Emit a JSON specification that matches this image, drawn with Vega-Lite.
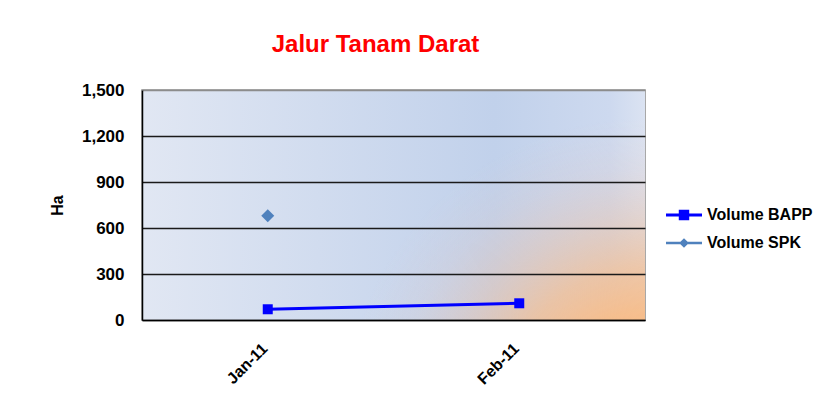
{
  "$schema": "https://vega.github.io/schema/vega-lite/v6.json",
  "width": 503,
  "height": 230,
  "autosize": "none",
  "padding": {"left": 142, "top": 90, "right": 179, "bottom": 83},
  "background": "white",
  "title": {
    "text": "Jalur Tanam Darat",
    "color": "#ff0000",
    "fontSize": 24,
    "fontWeight": "bold",
    "font": "Liberation Sans",
    "anchor": "middle",
    "dx": -18,
    "offset": 24
  },
  "config": {
    "view": {"stroke": "#8c8c8c", "strokeWidth": 1.5},
    "axis": {
      "labelFont": "Liberation Sans",
      "titleFont": "Liberation Sans",
      "labelColor": "#000",
      "titleColor": "#000"
    },
    "legend": {"labelFont": "Liberation Sans"}
  },
  "data": {
    "values": [
      {"month": "Jan-11", "series": "Volume BAPP", "value": 70},
      {"month": "Feb-11", "series": "Volume BAPP", "value": 109},
      {"month": "Jan-11", "series": "Volume SPK", "value": 680}
    ]
  },
  "layer": [
    {
      "data": {"values": [{"bg": 1}]},
      "mark": {
        "type": "rect",
        "color": {
          "gradient": "linear",
          "x1": 0, "y1": 0.5, "x2": 1, "y2": 0.5,
          "stops": [
            {"offset": 0, "color": "#e1e7f3"},
            {"offset": 0.7, "color": "#c1d1eb"},
            {"offset": 0.93, "color": "#cdd9ef"},
            {"offset": 1, "color": "#dbe3f2"}
          ]
        }
      },
      "encoding": {}
    },
    {
      "data": {"values": [{"bg": 1}]},
      "mark": {
        "type": "rect",
        "color": {
          "gradient": "radial",
          "x1": 1, "y1": 0.927, "r1": 0,
          "x2": 1, "y2": 0.927, "r2": 0.6,
          "stops": [
            {"offset": 0, "color": "rgba(249,188,134,1)"},
            {"offset": 0.33, "color": "rgba(247,189,138,1)"},
            {"offset": 0.5, "color": "rgba(243,191,148,0.78)"},
            {"offset": 0.67, "color": "rgba(236,194,166,0.45)"},
            {"offset": 0.83, "color": "rgba(230,197,185,0.18)"},
            {"offset": 1, "color": "rgba(225,200,200,0)"}
          ]
        }
      },
      "encoding": {}
    },
    {
      "mark": {"type": "line", "strokeWidth": 3},
      "encoding": {
        "x": {
          "field": "month", "type": "ordinal", "sort": ["Jan-11", "Feb-11"],
          "scale": {"type": "point", "padding": 0.5},
          "axis": {
            "title": null, "labelAngle": -45, "labelFontSize": 16, "labelFontWeight": "bold",
            "ticks": false, "domainColor": "#000", "domainWidth": 1.5, "labelPadding": 20,
            "labelOffset": -9, "grid": false, "zindex": 1
          }
        },
        "y": {
          "field": "value", "type": "quantitative",
          "scale": {"domain": [0, 1500], "nice": false},
          "axis": {
            "values": [0, 300, 600, 900, 1200, 1500], "format": ",d", "title": "Ha",
            "titleFontSize": 16, "titleFontWeight": "bold", "labelFontSize": 17,
            "labelFontWeight": "bold", "ticks": false, "labelPadding": 18, "titlePadding": 16,
            "gridColor": {"condition": {"test": "datum.value === 1500", "value": "#8c8c8c"}, "value": "#1a1a1a"},
            "gridWidth": 1.3, "domainColor": "#000", "domainWidth": 1.5, "zindex": 1
          }
        },
        "color": {
          "field": "series", "type": "nominal",
          "scale": {"domain": ["Volume BAPP", "Volume SPK"], "range": ["#0000ff", "#4f81bd"]},
          "legend": {
            "title": null, "orient": "none", "legendX": 524, "legendY": 107,
            "labelFontSize": 16, "labelFontWeight": "bold", "labelColor": "#000",
            "symbolSize": 1296, "labelOffset": 5, "rowPadding": 2,
            "encode": {
              "symbols": {
                "update": {
                  "shape": {"signal": "datum.value === 'Volume BAPP' ? 'M-1,-0.085H1V0.085H-1Z M-0.29,-0.29H0.29V0.29H-0.29Z' : 'M-1,-0.075H1V0.075H-1Z M0,-0.27L0.27,0L0,0.27L-0.27,0Z'"},
                  "fill": {"signal": "datum.value === 'Volume BAPP' ? '#0000ff' : '#4f81bd'"},
                  "stroke": {"value": "transparent"},
                  "strokeWidth": {"value": 0},
                  "opacity": {"value": 1},
                  "size": {"value": 1296}
                }
              }
            }
          }
        }
      }
    },
    {
      "transform": [{"filter": "datum.series === 'Volume BAPP'"}],
      "mark": {"type": "point", "filled": true, "opacity": 1, "shape": "square", "size": 100, "color": "#0000ff"},
      "encoding": {
        "x": {"field": "month", "type": "ordinal", "sort": ["Jan-11", "Feb-11"]},
        "y": {"field": "value", "type": "quantitative", "scale": {"domain": [0, 1500], "nice": false}}
      }
    },
    {
      "transform": [{"filter": "datum.series === 'Volume SPK'"}],
      "mark": {"type": "point", "filled": true, "opacity": 1, "shape": "diamond", "size": 170, "color": "#4f81bd"},
      "encoding": {
        "x": {"field": "month", "type": "ordinal", "sort": ["Jan-11", "Feb-11"]},
        "y": {"field": "value", "type": "quantitative", "scale": {"domain": [0, 1500], "nice": false}}
      }
    }
  ]
}
